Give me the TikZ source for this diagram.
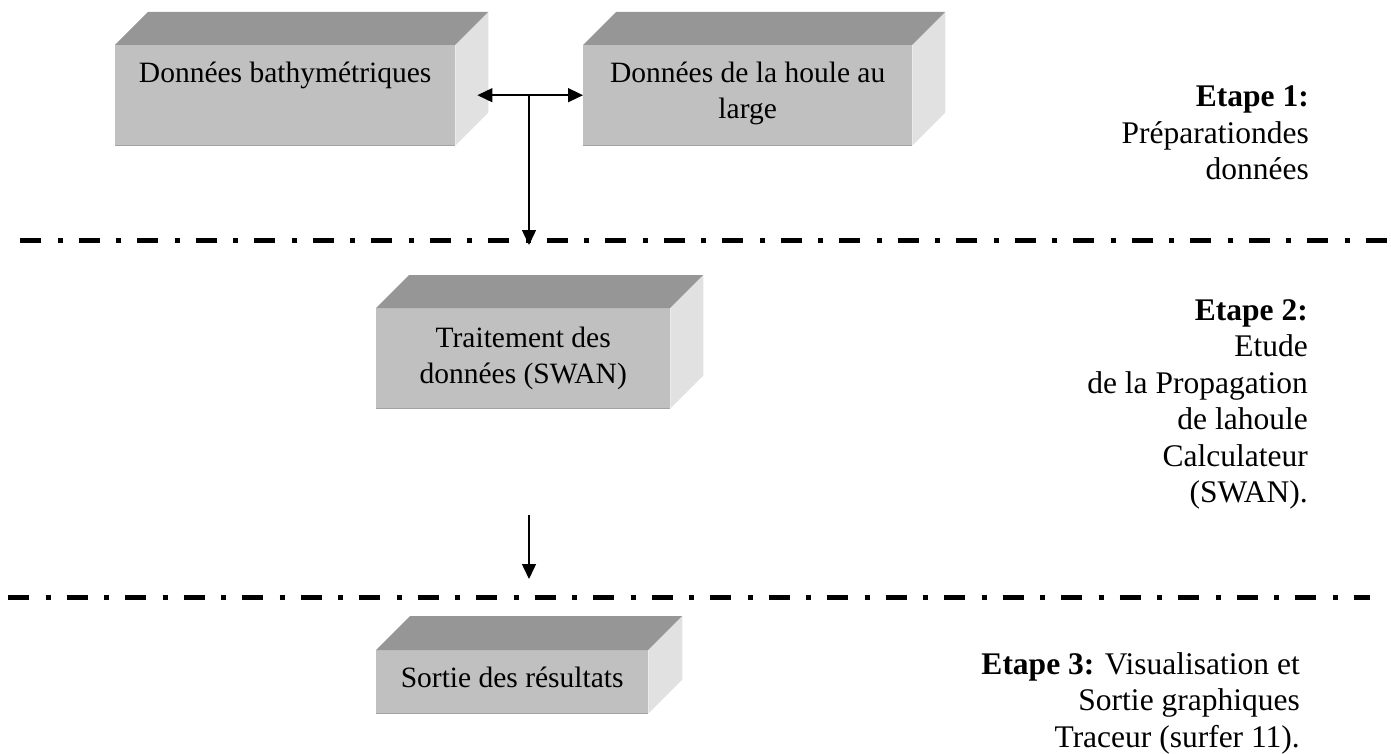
\documentclass[tikz,border=0pt]{standalone}
\usepackage{fontspec}
\setmainfont{Liberation Serif}
\usetikzlibrary{calc,arrows.meta}
\definecolor{avant}{HTML}{C0C0C0}
\definecolor{dessus}{HTML}{969696}
\definecolor{cote}{HTML}{E1E1E1}
\def\relief(#1)(#2){%
	\fill[dessus] (#1.north west) -- ++(#2,-#2) -- ($(#1.north east)+(#2,-#2)$) -- (#1.north east) -- cycle;
	\fill[cote] (#1.north east) -- ++(#2,-#2) -- ($(#1.south east)+(#2,-#2)$) -- (#1.south east) -- cycle;
	\draw[line width=1.5pt, color=avant!85!black] (#1.south west) -- (#1.south east);}
\newcommand\texte[2]{\parbox[t]{#1}{\centering #2}}

\begin{document}
\begin{tikzpicture}[x=1pt, y=-1pt,
		face/.style={fill=avant, inner sep=0pt, anchor=north west, font=\fontsize{29.5}{36}\selectfont},
		etape/.style={inner sep=0pt, anchor=base east, font=\fontsize{31.5}{36.5}\selectfont},
		fleche/.style={line width=1.5pt, -{Triangle[length=15pt, width=14pt]}},
		fleches/.style={line width=1.5pt, {Triangle[length=15pt, width=14pt]}-{Triangle[length=15pt, width=14pt]}},
		limite/.style={line width=5pt, dash pattern=on 21pt off 16.5pt on 5pt off 16pt}]
		%%%%% START %%%%%
		
		\useasboundingbox (0,0) rectangle (1391,754);
		
		% blocs
		\node[face, text height=37pt, text depth=63pt] (bathy) at (115,45) {\texte{340pt}{Données bathymétriques}};
		\relief(bathy)(33)
		\node[face, text height=37pt, text depth=63pt] (houle) at (583,45) {\texte{329pt}{Données de la houle au\\large}};
		\relief(houle)(33)
		\node[face, text height=39pt, text depth=61pt] (swan) at (376,308) {\texte{294pt}{Traitement des\\données (SWAN)}};
		\relief(swan)(33)
		\node[face, text height=37pt, text depth=26pt] (sortie) at (376,650) {\texte{272pt}{Sortie des résultats}};
		\relief(sortie)(34)
		
		% limites des etapes
		\draw[limite] (20,240) -- (1391,240);
		\draw[limite] (8,597) -- (1370,597);
		
		% fleches
		\coordinate (jonction) at (529,95);
		\coordinate (arrivee) at (529,245);
		\coordinate (depart) at (529,515);
		\coordinate (sortie-haut) at (529,579);
		\draw[fleches] ($(bathy.east)+(22,0)$) -- (houle.west);
		\draw[fleche] (jonction) -- (arrivee);
		\draw[fleche] (depart) -- (sortie-haut);
		
		% etapes
		\node[etape] (etape1) at (1309,107) {\begin{tabular}[t]{@{}r@{}}\textbf{Etape 1:}\\Préparationdes\\données\end{tabular}};
		\node[etape] (etape2) at (1308,320) {\begin{tabular}[t]{@{}r@{}}\textbf{Etape 2:}\\Etude\\de la Propagation\\de lahoule\\Calculateur\\(SWAN).\end{tabular}};
		\node[etape] (etape3) at (1300,674) {\begin{tabular}[t]{@{}r@{}}\textbf{Etape 3:} Visualisation et\\Sortie graphiques\\Traceur (surfer 11).\end{tabular}};
		
		%%%%% END %%%%%
\end{tikzpicture}
\end{document}
